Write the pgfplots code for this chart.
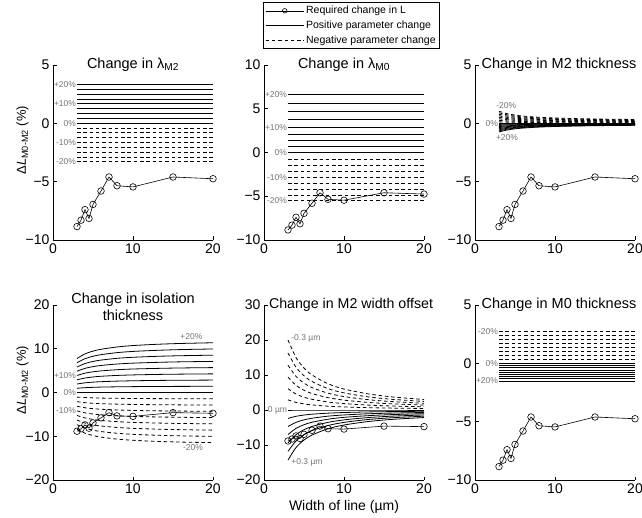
\documentclass[border=0pt]{standalone}
\usepackage{fontspec}
\setmainfont{Liberation Sans}
\usepackage{pgfplots}
\pgfplotsset{compat=1.18}
\usepackage{pgfplotstable}

% required change in L (same in every panel)
\pgfplotstableread{
x y
3 -8.85
3.5 -8.3
4 -7.4
4.5 -8.15
5 -6.95
6 -5.8
7 -4.6
8 -5.35
10 -5.45
15 -4.6
20 -4.75
}\tM

% lambda M2
\pgfplotstableread{
x z p1 p2 p3 p4 p5 p6 p7 p8 n1 n2 n3 n4 n5 n6 n7 n8
3 0 0.42 0.84 1.26 1.68 2.09 2.51 2.93 3.35 -0.41 -0.82 -1.23 -1.65 -2.06 -2.47 -2.88 -3.29
20 0 0.42 0.84 1.26 1.68 2.09 2.51 2.93 3.35 -0.41 -0.82 -1.23 -1.65 -2.06 -2.47 -2.88 -3.29
}\tA

% lambda M0
\pgfplotstableread{
x z p1 p2 p3 p4 p5 p6 p7 p8 n1 n2 n3 n4 n5 n6 n7 n8
3 0 0.7 1.4 2.1 2.9 3.75 4.65 5.6 6.6 -0.75 -1.45 -2.2 -2.9 -3.55 -4.2 -4.85 -5.45
20 0 0.7 1.4 2.1 2.9 3.75 4.65 5.6 6.6 -0.75 -1.45 -2.2 -2.9 -3.55 -4.2 -4.85 -5.45
}\tB

% M2 thickness
\pgfplotstableread{
x z p1 p2 p3 p4 p5 p6 p7 p8 n1 n2 n3 n4 n5 n6 n7 n8
3 0 -0.093 -0.185 -0.278 -0.37 -0.463 -0.555 -0.648 -0.74 0.13 0.26 0.39 0.52 0.65 0.78 0.91 1.04
4 0 -0.072 -0.143 -0.215 -0.286 -0.358 -0.429 -0.501 -0.573 0.104 0.208 0.312 0.416 0.519 0.623 0.727 0.831
5 0 -0.059 -0.118 -0.177 -0.236 -0.295 -0.354 -0.413 -0.472 0.088 0.177 0.265 0.353 0.441 0.530 0.618 0.706
6 0 -0.051 -0.101 -0.152 -0.203 -0.253 -0.304 -0.354 -0.405 0.078 0.156 0.233 0.311 0.389 0.467 0.545 0.623
8 0 -0.040 -0.080 -0.120 -0.161 -0.201 -0.241 -0.281 -0.321 0.065 0.130 0.194 0.259 0.324 0.389 0.453 0.518
10 0 -0.034 -0.068 -0.102 -0.136 -0.169 -0.203 -0.237 -0.271 0.057 0.114 0.171 0.228 0.285 0.342 0.399 0.456
13 0 -0.028 -0.056 -0.084 -0.113 -0.141 -0.169 -0.197 -0.225 0.050 0.099 0.149 0.199 0.249 0.298 0.348 0.398
16 0 -0.025 -0.049 -0.074 -0.098 -0.123 -0.147 -0.172 -0.196 0.045 0.090 0.136 0.181 0.226 0.271 0.316 0.362
20 0 -0.021 -0.043 -0.064 -0.085 -0.106 -0.128 -0.149 -0.170 0.041 0.083 0.124 0.165 0.206 0.248 0.289 0.330
}\tC

% isolation thickness
\pgfplotstableread{
x z p1 p2 p3 p4 p5 p6 p7 p8 n1 n2 n3 n4 n5 n6 n7 n8
3 0 0.97 1.94 2.91 3.89 4.86 5.83 6.80 7.77 -1.05 -2.10 -3.15 -4.20 -5.25 -6.30 -7.35 -8.40
4 0 1.10 2.21 3.31 4.42 5.52 6.62 7.73 8.83 -1.16 -2.33 -3.49 -4.65 -5.81 -6.98 -8.14 -9.30
5 0 1.18 2.37 3.55 4.73 5.91 7.10 8.28 9.46 -1.23 -2.46 -3.69 -4.92 -6.15 -7.38 -8.61 -9.84
6 0 1.24 2.47 3.71 4.94 6.18 7.41 8.65 9.88 -1.28 -2.55 -3.83 -5.10 -6.38 -7.65 -8.93 -10.20
8 0 1.30 2.60 3.90 5.21 6.51 7.81 9.11 10.41 -1.33 -2.66 -3.99 -5.33 -6.66 -7.99 -9.32 -10.65
10 0 1.34 2.68 4.02 5.37 6.71 8.05 9.39 10.73 -1.37 -2.73 -4.10 -5.46 -6.83 -8.19 -9.56 -10.92
13 0 1.38 2.76 4.13 5.51 6.89 8.27 9.64 11.02 -1.40 -2.79 -4.19 -5.59 -6.98 -8.38 -9.77 -11.17
16 0 1.40 2.80 4.20 5.61 7.01 8.41 9.81 11.21 -1.42 -2.83 -4.25 -5.67 -7.08 -8.50 -9.91 -11.33
20 0 1.42 2.84 4.26 5.69 7.11 8.53 9.95 11.37 -1.43 -2.87 -4.30 -5.73 -7.16 -8.60 -10.03 -11.46
}\tD

% M2 width offset
\pgfplotstableread{
x z p1 p2 p3 p4 p5 p6 n1 n2 n3 n4 n5 n6
3 0 -2.4 -4.7 -7.0 -9.4 -11.8 -14.3 2.9 6.1 9.4 12.8 16.3 20.0
4 0 -1.8 -3.53 -5.25 -7.05 -8.85 -10.73 2.18 4.58 7.05 9.6 12.23 15.0
5 0 -1.44 -2.82 -4.2 -5.64 -7.08 -8.58 1.74 3.66 5.64 7.68 9.78 12.0
6 0 -1.2 -2.35 -3.5 -4.7 -5.9 -7.15 1.45 3.05 4.7 6.4 8.15 10.0
8 0 -0.9 -1.76 -2.63 -3.53 -4.43 -5.36 1.09 2.29 3.53 4.8 6.11 7.5
10 0 -0.72 -1.41 -2.1 -2.82 -3.54 -4.29 0.87 1.83 2.82 3.84 4.89 6.0
13 0 -0.55 -1.08 -1.62 -2.17 -2.72 -3.30 0.67 1.41 2.17 2.95 3.76 4.62
16 0 -0.45 -0.88 -1.31 -1.76 -2.21 -2.68 0.54 1.14 1.76 2.4 3.06 3.75
20 0 -0.36 -0.71 -1.05 -1.41 -1.77 -2.15 0.44 0.92 1.41 1.92 2.45 3.0
}\tE

% M0 thickness
\pgfplotstableread{
x z p1 p2 p3 p4 p5 p6 p7 p8 n1 n2 n3 n4 n5 n6 n7 n8
3 0 -0.19 -0.38 -0.57 -0.76 -0.95 -1.14 -1.33 -1.52 0.34 0.68 1.03 1.37 1.71 2.05 2.40 2.74
20 0 -0.19 -0.38 -0.57 -0.76 -0.95 -1.14 -1.33 -1.52 0.34 0.68 1.03 1.37 1.71 2.05 2.40 2.74
}\tF

\pgfplotsset{
  panel/.style={scale only axis, width=160pt, height=175pt, anchor=south west,
    xmin=0, xmax=20, xtick={0,10,20}, xticklabels={0,10,20},
    axis lines=left, axis line style={-, line width=0.6pt},
    tick align=inside, major tick length=3.5pt,
    every tick/.style={black, line width=0.6pt},
    tick label style={font=\fontsize{14}{14}\selectfont},
    clip=false,
    title style={at={(0.5,1)}, anchor=north, inner sep=0pt, yshift=1pt,
      font=\fontsize{14.5}{16.5}\selectfont},
    ylabel style={font=\fontsize{13}{13}\selectfont,
      at={(axis description cs:-0.19,0.57)}, anchor=center},
    xlabel style={font=\fontsize{14}{14}\selectfont},
  },
  pline/.style={black, line width=0.8pt, forget plot},
  nline/.style={black, line width=0.8pt, dash pattern=on 3.5pt off 2.8pt, forget plot},
  req/.style={black, line width=0.6pt, mark=o, mark size=3.3pt,
    mark options={solid, line width=0.6pt}},
}
\tikzset{lab/.style={font=\fontsize{8.5}{9}\selectfont, text=black!55, inner sep=0.8pt}}

\newcommand\curves[2]{%
  \pgfplotsinvokeforeach{1,...,#2}{%
    \addplot[pline, smooth] table[x=x, y=p##1]{#1};
    \addplot[nline, smooth] table[x=x, y=n##1]{#1};}%
  \addplot[pline] table[x=x, y=z]{#1};}

\begin{document}
\begin{tikzpicture}
\path[use as bounding box] (0,0) rectangle (642pt,517pt);

% ---- top left
\begin{axis}[panel, at={(53pt,277pt)},
  ymin=-10, ymax=5, ytick={-10,-5,0,5}, yticklabels={−10,−5,0,5},
  title={Change in λ\textsubscript{M2}},
  ylabel={Δ\textit{L}\textsubscript{M0-M2} (\%)}]
\curves{\tA}{8}
\addplot[req] table[x=x, y=y]{\tM};
\node[lab, anchor=east] at (axis cs:3,3.35) {+20\%};
\node[lab, anchor=east] at (axis cs:3,1.68) {+10\%};
\node[lab, anchor=east] at (axis cs:3,0) {0\%};
\node[lab, anchor=east] at (axis cs:3,-1.65) {-10\%};
\node[lab, anchor=east] at (axis cs:3,-3.29) {-20\%};
\end{axis}

% ---- top middle (carries the legend)
\begin{axis}[panel, at={(264pt,277pt)},
  ymin=-10, ymax=10, ytick={-10,-5,0,5,10}, yticklabels={−10,−5,0,5,10},
  title={Change in λ\textsubscript{M0}},
  legend style={at={(axis description cs:-0.006,1.36)}, anchor=north west,
    draw=black, line width=0.5pt, font=\fontsize{10.5}{12}\selectfont,
    inner sep=2pt, row sep=1.5pt, cells={anchor=west}},
  legend image code/.code={\draw[#1] (0pt,0pt) -- (38pt,0pt);
    \draw[#1, mark size=2.3pt] plot coordinates {(19pt,0pt)};}]
\curves{\tB}{8}
\addplot[req] table[x=x, y=y]{\tM};
\addlegendentry{Required change in L}
\addlegendimage{black, line width=0.8pt}
\addlegendentry{Positive parameter change}
\addlegendimage{black, line width=0.8pt, dash pattern=on 3.5pt off 2.8pt}
\addlegendentry{Negative parameter change}
\node[lab, anchor=east] at (axis cs:3,6.6) {+20\%};
\node[lab, anchor=east] at (axis cs:3,2.9) {+10\%};
\node[lab, anchor=east] at (axis cs:3,0) {0\%};
\node[lab, anchor=east] at (axis cs:3,-2.9) {-10\%};
\node[lab, anchor=east] at (axis cs:3,-5.45) {-20\%};
\end{axis}

% ---- top right
\begin{axis}[panel, at={(475pt,277pt)},
  ymin=-10, ymax=5, ytick={-10,-5,0,5}, yticklabels={−10,−5,0,5},
  title={Change in M2 thickness}, title style={xshift=4pt}]
\curves{\tC}{8}
\addplot[req] table[x=x, y=y]{\tM};
\node[lab] at (axis cs:3.9,1.5) {-20\%};
\node[lab, anchor=east] at (axis cs:3,0) {0\%};
\node[lab] at (axis cs:4.0,-1.2) {+20\%};
\end{axis}

% ---- bottom left
\begin{axis}[panel, at={(53pt,37pt)},
  ymin=-20, ymax=20, ytick={-20,-10,0,10,20}, yticklabels={−20,−10,0,10,20},
  title={Change in isolation\\thickness},
  title style={align=center, yshift=5pt},
  ylabel={Δ\textit{L}\textsubscript{M0-M2} (\%)}]
\curves{\tD}{8}
\addplot[req] table[x=x, y=y]{\tM};
\node[lab] at (axis cs:17.3,12.8) {+20\%};
\node[lab, anchor=east] at (axis cs:3,3.89) {+10\%};
\node[lab, anchor=east] at (axis cs:3,0) {0\%};
\node[lab, anchor=east] at (axis cs:3,-4.2) {-10\%};
\node[lab] at (axis cs:17.5,-12.7) {-20\%};
\end{axis}

% ---- bottom middle
\begin{axis}[panel, at={(264pt,37pt)},
  ymin=-20, ymax=30, ytick={-20,-10,0,10,20,30}, yticklabels={−20,−10,0,10,20,30},
  title={Change in M2 width offset},
  title style={xshift=7pt, font=\fontsize{14.2}{16}\selectfont},
  xlabel={Width of line (µm)}]
\curves{\tE}{6}
\addplot[req] table[x=x, y=y]{\tM};
\node[lab, anchor=west] at (axis cs:3.3,20.5) {-0.3 µm};
\node[lab, anchor=east] at (axis cs:3,0) {0 µm};
\node[lab, anchor=west] at (axis cs:3.3,-15) {+0.3 µm};
\end{axis}

% ---- bottom right
\begin{axis}[panel, at={(475pt,37pt)},
  ymin=-10, ymax=5, ytick={-10,-5,0,5}, yticklabels={−10,−5,0,5},
  title={Change in M0 thickness}, title style={xshift=4pt}]
\curves{\tF}{8}
\addplot[req] table[x=x, y=y]{\tM};
\node[lab, anchor=east] at (axis cs:3,2.74) {-20\%};
\node[lab, anchor=east] at (axis cs:3,0) {0\%};
\node[lab, anchor=east] at (axis cs:3,-1.52) {+20\%};
\end{axis}
\end{tikzpicture}
\end{document}
